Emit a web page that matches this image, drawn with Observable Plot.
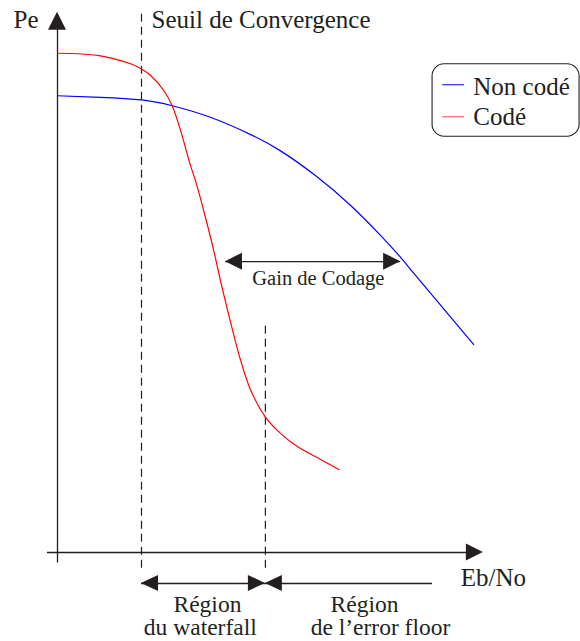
<!DOCTYPE html>
<html><head><meta charset="utf-8">
<script src="https://cdn.jsdelivr.net/npm/d3@7"></script>
<script src="https://cdn.jsdelivr.net/npm/@observablehq/plot@0.6"></script>
<style>body{margin:0;background:#fff}</style>
</head><body><div id="chart"></div>
<script>
// --- data (arbitrary schematic units) ---
const ebnoNonCode = [0, 1.02, 2.0, 2.73, 3.64, 4.60, 5.31, 6.14, 6.98, 7.69, 8.17, 8.48, 8.88, 9.28, 9.91];
const peNonCode   = [8.70, 8.67, 8.62, 8.51, 8.29, 7.96, 7.65, 7.18, 6.61, 6.04, 5.62, 5.32, 4.94, 4.56, 3.96];
const ebnoCode = [0, 0.5, 1.02, 1.5, 1.74, 2.0, 2.21, 2.53, 2.73, 2.93, 3.13, 3.33, 3.52, 3.72, 3.88, 4.12, 4.36, 4.60, 4.95, 5.31, 5.71, 6.18, 6.70];
const peCode   = [9.51, 9.50, 9.46, 9.37, 9.31, 9.21, 9.09, 8.80, 8.51, 8.04, 7.47, 6.96, 6.39, 5.75, 5.18, 4.39, 3.66, 3.09, 2.58, 2.27, 2.02, 1.81, 1.58];
const seriesNames = ["Non codé", "Codé"];
const seuil = 2.0;          // seuil de convergence
const floorStart = 4.95;    // début de l'error floor
const floorEnd = 8.93;
const gainFrom = 4.00, gainTo = 8.17, gainLevel = 5.54;
const axisLabels = ["Pe", "Eb/No"];
const annotations = ["Seuil de Convergence", "Gain de Codage"];
const regionWaterfall = ["Région", "du waterfall"];
const regionFloor = ["Région", "de l’error floor"];

// --- scales ---
const X_DOMAIN = [0, 10], X_RANGE = [57, 477];
const Y_DOMAIN = [0, 10], Y_RANGE = [552, 27];
const kx = (X_RANGE[1] - X_RANGE[0]) / (X_DOMAIN[1] - X_DOMAIN[0]);
const ky = (Y_RANGE[0] - Y_RANGE[1]) / (Y_DOMAIN[1] - Y_DOMAIN[0]);

const ink = "#231f20";
const font = "Liberation Serif, Times New Roman, serif";

const nonCode = ebnoNonCode.map((x, i) => ({x, y: peNonCode[i]}));
const code = ebnoCode.map((x, i) => ({x, y: peCode[i]}));

// horizontal arrow head: tip at (xt,y), dir = +1 right, -1 left
function hHead(xt, y, dir, L = 17, H = 8.5) {
  const lx = L / kx, hy = H / ky;
  return [{x: xt - dir * lx, y1: y - hy, y2: y + hy}, {x: xt, y1: y, y2: y}].sort((a, b) => a.x - b.x);
}
function vHead(x, yt, L = 18, H = 9) {
  const ly = L / ky, hx = H / kx;
  return [{y: yt - ly, x1: x - hx, x2: x + hx}, {y: yt, x1: x, x2: x}];
}
const yTip = 10.29, xTip = 10.14, bottomLevel = -0.59;

const heads = [
  hHead(xTip, 0, 1), hHead(gainFrom, gainLevel, -1), hHead(gainTo, gainLevel, 1),
  hHead(seuil, bottomLevel, -1, 17, 8), hHead(floorStart, bottomLevel, 1, 17, 8), hHead(floorStart, bottomLevel, -1, 17, 8)
];

const textOpts = {fontFamily: font, fill: ink, lineAnchor: "bottom", fontSize: 25};
const regionFont = 23.5;

const marks = [
  // axes
  Plot.ruleX([0], {y1: -0.2, y2: 10.0, stroke: ink, strokeWidth: 1.3}),
  Plot.ruleY([0], {x1: -0.24, x2: 9.9, stroke: ink, strokeWidth: 1.3}),
  Plot.areaX(vHead(0, yTip), {y: "y", x1: "x1", x2: "x2", fill: ink}),
  // dashed threshold lines
  Plot.ruleX([seuil], {y1: -0.30, y2: 10.32, stroke: ink, strokeWidth: 1.2, strokeDasharray: "8,5"}),
  Plot.ruleX([floorStart], {y1: -0.30, y2: 4.38, stroke: ink, strokeWidth: 1.2, strokeDasharray: "8,5"}),
  // curves
  Plot.line(nonCode, {x: "x", y: "y", stroke: "#0000ff", strokeWidth: 1.2, curve: "natural"}),
  Plot.line(code, {x: "x", y: "y", stroke: "#ff0000", strokeWidth: 1.2, curve: "catmull-rom"}),
  // gain arrow
  Plot.ruleY([gainLevel], {x1: gainFrom, x2: gainTo, stroke: ink, strokeWidth: 1.3}),
  // region arrows
  Plot.ruleY([bottomLevel], {x1: seuil, x2: floorStart, stroke: ink, strokeWidth: 1.3}),
  Plot.ruleY([bottomLevel], {x1: floorStart, x2: floorEnd, stroke: ink, strokeWidth: 1.3}),
  ...heads.map(h => Plot.areaY(h, {x: "x", y1: "y1", y2: "y2", fill: ink})),
  // texts
  Plot.text([axisLabels[0]], {x: -0.45, y: 10.0, text: d => d, textAnchor: "end", ...textOpts}),
  Plot.text([annotations[0]], {x: 2.24, y: 10.0, text: d => d, textAnchor: "start", ...textOpts}),
  Plot.text([annotations[1]], {x: 6.21, y: 5.10, text: d => d, textAnchor: "middle", ...textOpts, fontSize: 20.5}),
  Plot.text([axisLabels[1]], {x: 9.6, y: -0.63, text: d => d, textAnchor: "start", ...textOpts}),
  Plot.text([regionWaterfall[0]], {x: 3.57, y: -1.124, text: d => d, textAnchor: "middle", ...textOpts, fontSize: regionFont}),
  Plot.text([regionWaterfall[1]], {x: 3.40, y: -1.572, text: d => d, textAnchor: "middle", ...textOpts, fontSize: regionFont}),
  Plot.text([regionFloor[0]], {x: 7.31, y: -1.124, text: d => d, textAnchor: "middle", ...textOpts, fontSize: regionFont}),
  Plot.text([regionFloor[1]], {x: 7.69, y: -1.572, text: d => d, textAnchor: "middle", ...textOpts, fontSize: regionFont}),
  // legend
  Plot.rect([{x1: 8.93, x2: 12.43, y1: 7.92, y2: 9.30}], {x1: "x1", x2: "x2", y1: "y1", y2: "y2", rx: 12, fill: "white", stroke: ink, strokeWidth: 1.1}),
  Plot.line([{x: 9.17, y: 8.91}, {x: 9.67, y: 8.91}], {x: "x", y: "y", stroke: "#0000ff", strokeWidth: 1.2}),
  Plot.line([{x: 9.17, y: 8.30}, {x: 9.67, y: 8.30}], {x: "x", y: "y", stroke: "#ff4d4d", strokeWidth: 1.2}),
  Plot.text([seriesNames[0]], {x: 9.90, y: 8.72, text: d => d, textAnchor: "start", ...textOpts}),
  Plot.text([seriesNames[1]], {x: 9.90, y: 8.15, text: d => d, textAnchor: "start", ...textOpts}),
];

const chart = Plot.plot({
  width: 580,
  height: 641,
  margin: 0,
  x: {domain: X_DOMAIN, range: X_RANGE, axis: null},
  y: {domain: Y_DOMAIN, range: Y_RANGE, axis: null},
  style: {background: "white", fontFamily: font},
  marks
});
document.getElementById("chart").append(chart);
</script>
</body></html>
